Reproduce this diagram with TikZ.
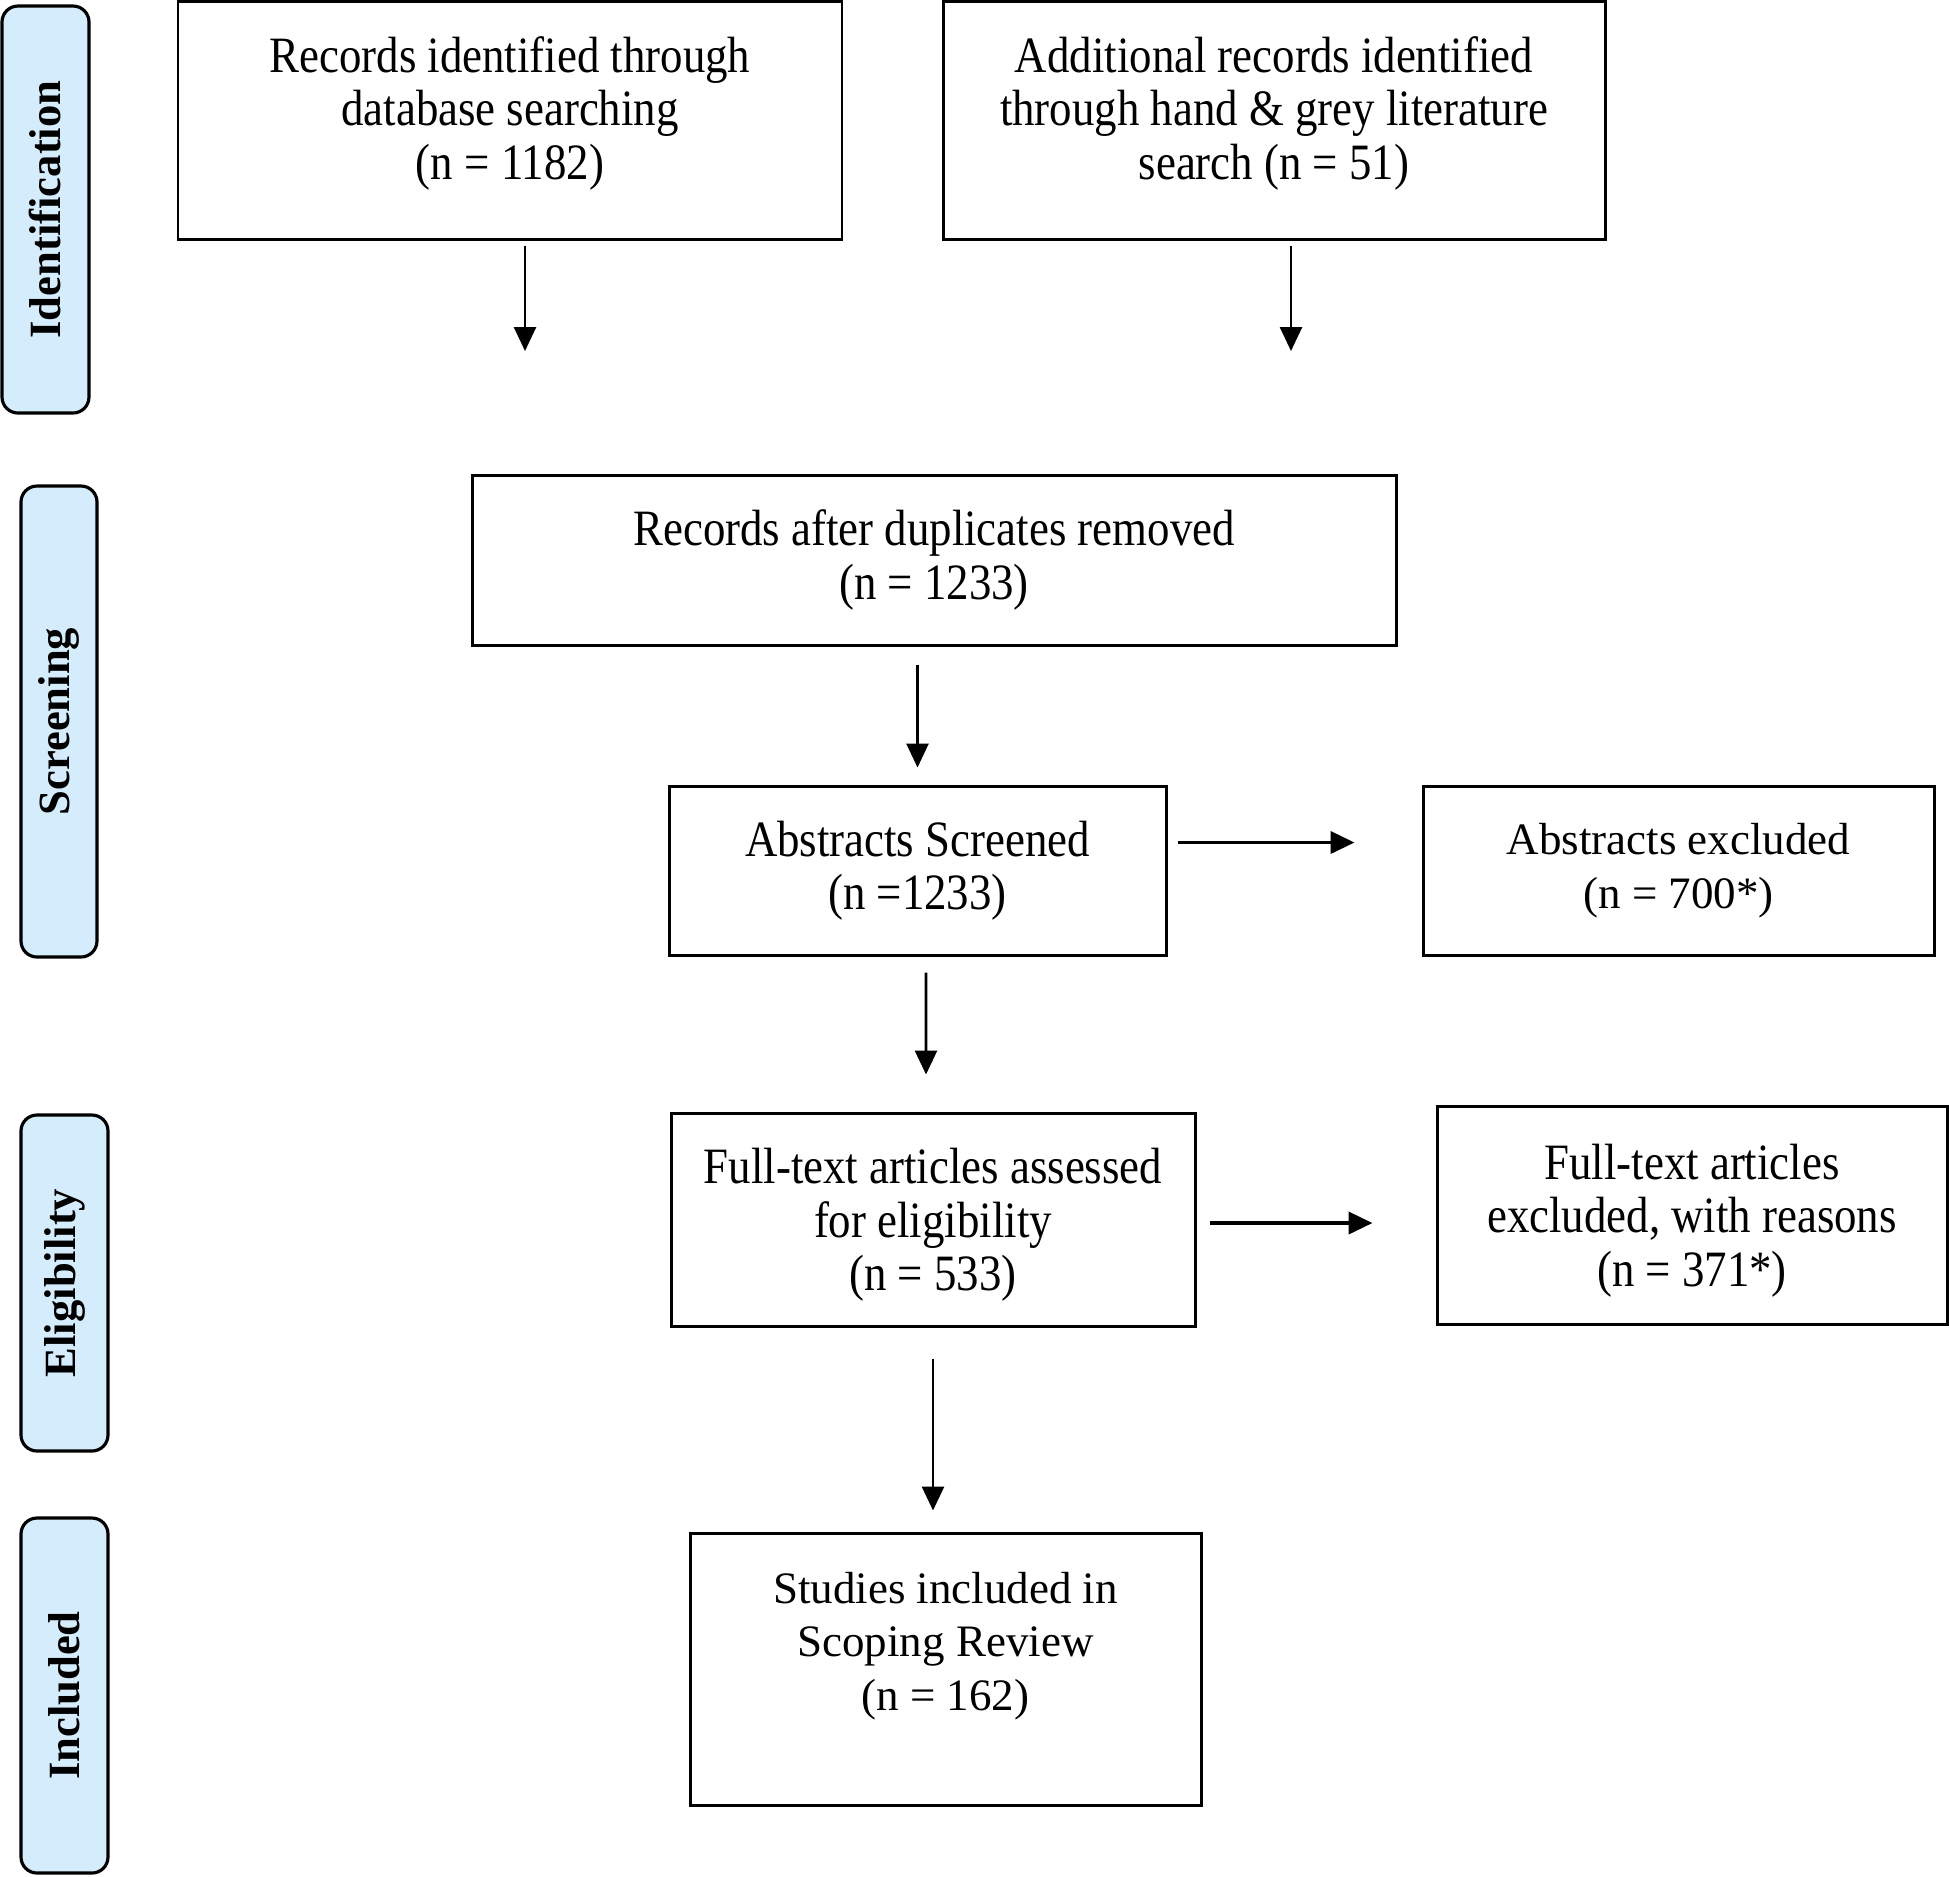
\documentclass[tikz,border=0pt]{standalone}
\usepackage{fontspec}
\setmainfont{Liberation Serif}
\newfontfamily\condfont[FakeStretch=0.88]{Liberation Serif}
\usetikzlibrary{arrows.meta}
\definecolor{phaseblue}{RGB}{212,236,252}
\tikzset{
  box/.style={draw, line width=0.85pt, align=center, inner sep=0pt,
    font=\condfont\fontsize{14.5}{15.2}\selectfont},
  plainbox/.style={box, font=\fontsize{12.8}{15.2}\selectfont},
  phase/.style={draw, line width=0.9pt, rounded corners=1.6mm, fill=phaseblue,
    rotate=90, inner sep=0pt, font=\bfseries\fontsize{12.7}{15}\selectfont}
}
\begin{document}
\begin{tikzpicture}[x=0.1mm,y=-0.1mm,>={Triangle[length=2.4mm,width=2.2mm]}]
\useasboundingbox (0,0) rectangle (1949,1876);
% phases
\node[phase, minimum width=40.7mm, minimum height=8.7mm] (ident) at (45.5,209.5) {Identification};
\node[phase, minimum width=47.1mm, minimum height=7.6mm] (screen) at (59,721.5) {Screening};
\node[phase, minimum width=33.6mm, minimum height=8.7mm] (elig) at (64.5,1283) {Eligibility};
\node[phase, minimum width=35.5mm, minimum height=8.7mm] (incl) at (64.5,1695.5) {Included};
% identification
\node[box, minimum width=66.4mm, minimum height=23.8mm, text depth=7pt] (db) at (510,120)
  {Records identified through\\database searching\\(n = 1182)};
\node[box, minimum width=66.2mm, minimum height=23.8mm, text depth=7pt] (hg) at (1274,120)
  {Additional records identified\\through hand \& grey literature\\search (n = 51)};
\coordinate (dbend) at (525,351);
\coordinate (hgend) at (1291,351);
\draw[->, line width=0.75pt, shorten <=0.5mm] (db.south -| dbend) -- (dbend);
\draw[->, line width=0.75pt, shorten <=0.5mm] (hg.south -| hgend) -- (hgend);
% screening
\node[box, minimum width=92.4mm, minimum height=17mm] (dup) at (934,560)
  {Records after duplicates removed\\(n = 1233)};
\node[box, minimum width=49.7mm, minimum height=16.9mm] (scr) at (917.5,870.5)
  {Abstracts Screened\\(n =1233)};
\node[plainbox, minimum width=51.1mm, minimum height=16.9mm] (absx) at (1678.5,870.5)
  {Abstracts excluded\\(n = 700*)};
\draw[->, line width=0.75pt, shorten <=1.8mm, shorten >=1.7mm] (dup.south -| scr.north) -- (scr.north);
\draw[->, line width=1.1pt, shorten <=1mm, shorten >=6.7mm] ([yshift=2.8mm]scr.east) -- ([yshift=2.8mm]absx.west);
% eligibility
\node[box, minimum width=52.4mm, minimum height=21.3mm, text depth=0pt] (ft) at (933,1219.5)
  {Full-text articles assessed\\for eligibility\\(n = 533)};
\node[box, minimum width=51mm, minimum height=21.8mm, text depth=0pt] (ftx) at (1692,1215)
  {Full-text articles\\excluded, with reasons\\(n = 371*)};
\draw[->, line width=0.75pt, shorten <=1.6mm, shorten >=3.7mm] ([xshift=0.85mm]scr.south) -- ([xshift=-0.7mm]ft.north);
\draw[->, line width=1.1pt, shorten <=1.3mm, shorten >=6.3mm] ([yshift=-0.35mm]ft.east) -- ([yshift=-0.35mm]ft.east -| ftx.west);
% included
\node[plainbox, minimum width=51.1mm, minimum height=27.2mm, text depth=15.8pt] (inc) at (945.5,1669)
  {Studies included in\\Scoping Review\\(n = 162)};
\draw[->, line width=0.75pt, shorten <=3.1mm, shorten >=2.1mm] (ft.south) -- (ft.south |- inc.north);
\end{tikzpicture}
\end{document}
